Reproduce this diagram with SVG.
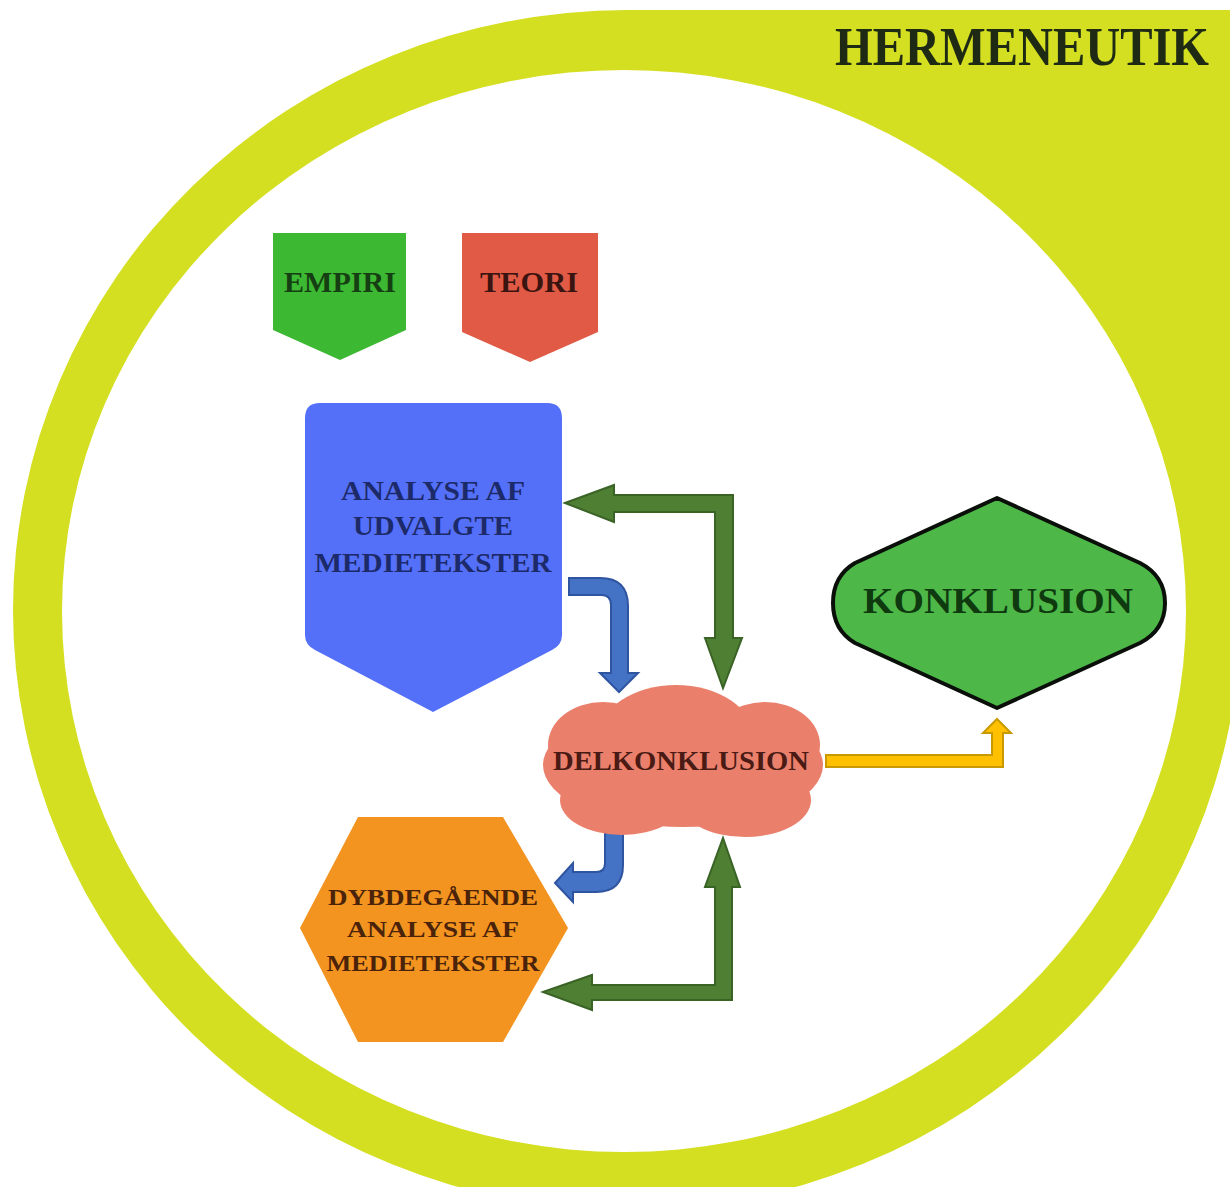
<svg xmlns="http://www.w3.org/2000/svg" width="1230" height="1187" viewBox="0 0 1230 1187">
  <style>
    .lbl { font-family: "Liberation Serif", "DejaVu Serif", serif; font-weight: bold; text-anchor: middle; }
    .arrow-green { fill: #4f7f33; stroke: #3a6326; stroke-width: 2; stroke-linejoin: miter; }
    .arrow-blue { fill: #4472c4; stroke: #2f54a0; stroke-width: 2; }
    .arrow-yellow { fill: #ffc000; stroke: #c89a00; stroke-width: 2; }
  </style>
  <rect width="1230" height="1187" fill="#ffffff"/>
  <g id="background">
    <ellipse cx="627" cy="610" rx="614" ry="600" fill="#d4df21"/>
    <rect x="627" y="10" width="603" height="600" fill="#d4df21"/>
    <ellipse cx="624" cy="611" rx="562" ry="541" fill="#ffffff"/>
    <text transform="translate(1022,65) scale(1,1.15)" x="0" y="0" font-family="'Liberation Serif', serif" font-weight="bold" font-size="47" text-anchor="middle" fill="#1e2a14" textLength="374" lengthAdjust="spacingAndGlyphs">HERMENEUTIK</text>
  </g>
  <g id="connectors">
    <path class="arrow-green" d="M565,503 L614,485 L614,495 L733,495 L733,638 L742,638 L723,688 L705,638 L715,638 L715,512 L614,512 L614,522 Z"/>
    <path class="arrow-blue" d="M569,578 L600,578 Q628,578 628,606 L628,673 L638,673 L619,692 L600,673 L611,673 L611,605 Q611,595 601,595 L569,595 Z"/>
    <path class="arrow-yellow" d="M826,755 L992,755 L992,733 L983,733 L997,719 L1011,733 L1003,733 L1003,767 L826,767 Z"/>
    <path class="arrow-blue" d="M605,827 L623,827 L623,865 Q623,892 596,892 L573,892 L573,902 L555,883 L573,863 L573,872 L596,872 Q605,872 605,863 Z"/>
    <path class="arrow-green" d="M543,992 L592,975 L592,985 L715,985 L715,887 L705,887 L723,838 L740,887 L732,887 L732,1000 L592,1000 L592,1010 Z"/>
  </g>
  <g id="empiri">
    <path d="M273,233 L406,233 L406,330 L340,360 L273,330 Z" fill="#3cb832"/>
    <text class="lbl" x="340" y="292" font-size="29" fill="#153f12" textLength="112" lengthAdjust="spacingAndGlyphs">EMPIRI</text>
  </g>
  <g id="teori">
    <path d="M462,233 L598,233 L598,332 L530,362 L462,332 Z" fill="#e05a45"/>
    <text class="lbl" x="529" y="292" font-size="29" fill="#3a1410" textLength="98" lengthAdjust="spacingAndGlyphs">TEORI</text>
  </g>
  <g id="analyse">
    <path d="M320,403 L547,403 Q562,403 562,418 L562,635 Q562,645 552,650 L433,712 L315,650 Q305,645 305,635 L305,418 Q305,403 320,403 Z" fill="#5470f8"/>
    <text class="lbl" x="433" y="500" font-size="28" fill="#1d2a6a" textLength="184" lengthAdjust="spacingAndGlyphs">ANALYSE AF</text>
    <text class="lbl" x="433" y="535" font-size="28" fill="#1d2a6a" textLength="160" lengthAdjust="spacingAndGlyphs">UDVALGTE</text>
    <text class="lbl" x="433" y="572" font-size="28" fill="#1d2a6a" textLength="237" lengthAdjust="spacingAndGlyphs">MEDIETEKSTER</text>
  </g>
  <g id="delkonklusion" fill="#ea806b">
    <ellipse cx="683" cy="765" rx="140" ry="62"/>
    <ellipse cx="676" cy="738" rx="78" ry="53"/>
    <ellipse cx="603" cy="745" rx="55" ry="43"/>
    <ellipse cx="765" cy="745" rx="55" ry="43"/>
    <ellipse cx="622" cy="800" rx="62" ry="35"/>
    <ellipse cx="745" cy="800" rx="66" ry="37"/>
    <text class="lbl" x="681" y="770" font-size="28" fill="#4a1a14" textLength="256" lengthAdjust="spacingAndGlyphs">DELKONKLUSION</text>
  </g>
  <g id="konklusion">
    <path d="M997,498 L1140,563 Q1165,576 1165,603 Q1165,630 1140,643 L997,708 L855,643 Q833,630 833,603 Q833,576 855,563 Z" fill="#4db848" stroke="#0a0f0a" stroke-width="4" stroke-linejoin="round"/>
    <text class="lbl" x="998" y="613" font-size="36" fill="#0f3a10" textLength="270" lengthAdjust="spacingAndGlyphs">KONKLUSION</text>
  </g>
  <g id="dybdegaaende">
    <path d="M358,817 L503,817 L568,928 L503,1042 L358,1042 L300,928 Z" fill="#f39320"/>
    <text class="lbl" x="433" y="905" font-size="24" fill="#4a230a" textLength="210" lengthAdjust="spacingAndGlyphs">DYBDEGÅENDE</text>
    <text class="lbl" x="433" y="937" font-size="24" fill="#4a230a" textLength="172" lengthAdjust="spacingAndGlyphs">ANALYSE AF</text>
    <text class="lbl" x="433" y="971" font-size="24" fill="#4a230a" textLength="213" lengthAdjust="spacingAndGlyphs">MEDIETEKSTER</text>
  </g>
</svg>
